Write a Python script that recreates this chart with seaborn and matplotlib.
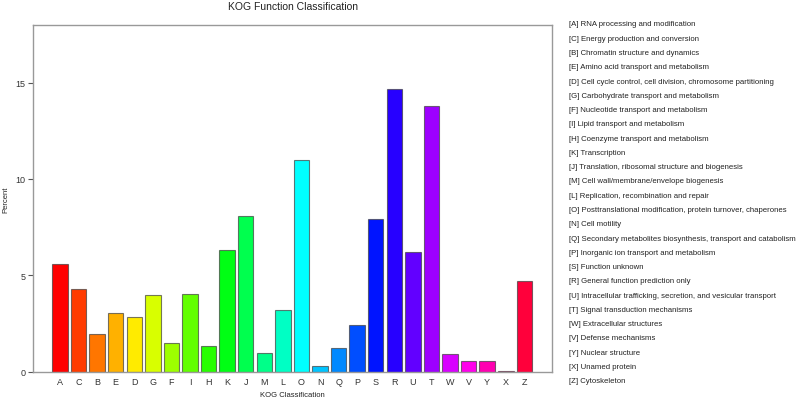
import colorsys
import matplotlib
matplotlib.use("Agg")
import matplotlib.pyplot as plt
import seaborn as sns
import pandas as pd

# KOG classes in plotted order
codes = ["A", "C", "B", "E", "D", "G", "F", "I", "H", "K", "J", "M", "L",
         "O", "N", "Q", "P", "S", "R", "U", "T", "W", "V", "Y", "X", "Z"]
percent = [5.6, 4.27, 1.96, 3.05, 2.86, 3.98, 1.49, 4.05, 1.31, 6.31, 8.1, 0.97, 3.2,
           10.98, 0.31, 1.25, 2.42, 7.94, 14.67, 6.23, 13.77, 0.93, 0.57, 0.54, 0.02, 4.72]
descriptions = [
    "RNA processing and modification",
    "Energy production and conversion",
    "Chromatin structure and dynamics",
    "Amino acid transport and metabolism",
    "Cell cycle control, cell division, chromosome partitioning",
    "Carbohydrate transport and metabolism",
    "Nucleotide transport and metabolism",
    "Lipid transport and metabolism",
    "Coenzyme transport and metabolism",
    "Transcription",
    "Translation, ribosomal structure and biogenesis",
    "Cell wall/membrane/envelope biogenesis",
    "Replication, recombination and repair",
    "Posttranslational modification, protein turnover, chaperones",
    "Cell motility",
    "Secondary metabolites biosynthesis, transport and catabolism",
    "Inorganic ion transport and metabolism",
    "Function unknown",
    "General function prediction only",
    "Intracellular trafficking, secretion, and vesicular transport",
    "Signal transduction mechanisms",
    "Extracellular structures",
    "Defense mechanisms",
    "Nuclear structure",
    "Unamed protein",
    "Cytoskeleton",
]

df = pd.DataFrame({"code": codes, "percent": percent})

# rainbow palette like R's rainbow(n)
n = len(codes)
colors = [colorsys.hsv_to_rgb(i / n, 1, 1) for i in range(n)]

sns.set_style("white")
plt.rcParams["font.family"] = ["Liberation Sans", "DejaVu Sans"]

fig = plt.figure(figsize=(8, 4.02), dpi=100)
ax = fig.add_axes([0.04125, 0.0729, 0.6488, 0.8632])

sns.barplot(data=df, x="code", y="percent", hue="code", palette=colors,
            legend=False, width=0.833, saturation=1, ax=ax,
            edgecolor=(0.25, 0.25, 0.25, 0.7), linewidth=0.8)

ax.set_xlim(-1.45, 26.49)
ax.set_ylim(0, 18)
ax.set_yticks([0, 5, 10, 15])
for s in ax.spines.values():
    s.set_color("#999999")
    s.set_linewidth(1.0)
ax.tick_params(axis="y", length=3.5, width=0.8, color="#555555", labelsize=6.5,
               pad=2, left=True, direction="out", labelcolor="#333333")
ax.tick_params(axis="x", length=0, labelsize=6.5, pad=4, labelcolor="#333333")
ax.set_xlabel("")
ax.set_ylabel("")

# titles placed in figure coords
fig.text(292.5 / 800, 1 - 7 / 402, "KOG Function Classification", fontsize=7.5,
         ha="center", va="center", color="#222222")
fig.text(292.5 / 800, 1 - 396 / 402, "KOG Classification", fontsize=5.5,
         ha="center", va="center", color="#222222")
fig.text(6 / 800, 1 - 200 / 402, "Percent", fontsize=5.5, rotation=90,
         ha="center", va="center", color="#222222")

# text legend on the right
y0 = 1 - 25 / 402
step = 14.27 / 402
for i, (c, d) in enumerate(zip(codes, descriptions)):
    fig.text(569 / 800, y0 - i * step, f"[{c}] {d}", fontsize=5.6,
             va="center", ha="left", color="#222222")

fig.savefig("out.png", dpi=100)
